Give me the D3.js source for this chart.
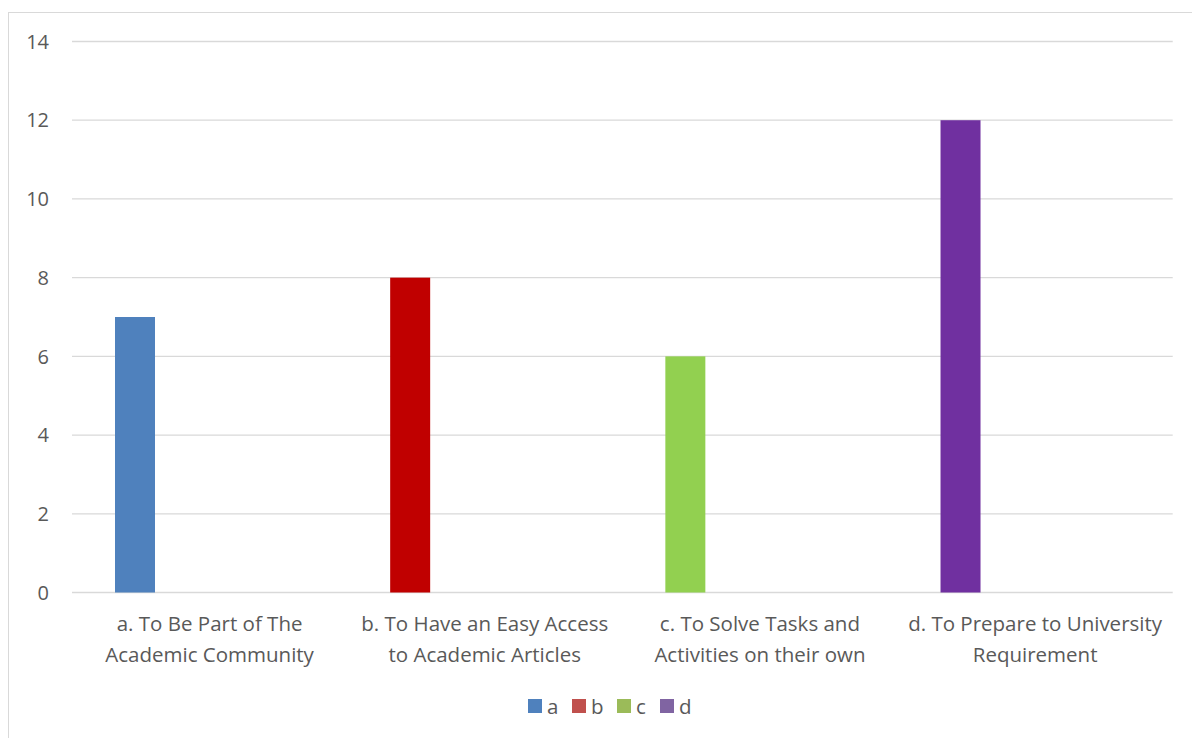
<!DOCTYPE html>
<html><head><meta charset="utf-8">
<script src="https://cdn.jsdelivr.net/npm/d3@7"></script>
<style>body{margin:0;background:#fff}svg{display:block}text{font-family:"Open Sans","Noto Sans",sans-serif}</style>
</head><body>
<script>
const categories = ["a. To Be Part of The|Academic Community","b. To Have an Easy Access|to Academic Articles","c. To Solve Tasks and|Activities on their own","d. To Prepare to University|Requirement"];
const seriesNames = ["a","b","c","d"];
const values = [7, 8, 6, 12];
const barColors = ["#4F81BD","#C00000","#92D050","#7030A0"];
const legendColors = ["#4F81BD","#C0504D","#9BBB59","#8064A2"];
const yTicks = [0,2,4,6,8,10,12,14];

const W=1192,H=738;
const svg=d3.select("body").append("svg").attr("width",W).attr("height",H);
svg.append("rect").attr("x",8.5).attr("y",12.5).attr("width",W).attr("height",H).attr("fill","none").attr("stroke","#D9D9D9");

const x=d3.scaleBand().domain(categories).range([72,1172.7]);
const y=d3.scaleLinear().domain([0,14]).range([592.5,41.5]);

svg.append("g").selectAll("line").data(yTicks).join("line")
 .attr("x1",72).attr("x2",1172.7).attr("y1",d=>y(d)).attr("y2",d=>y(d))
 .attr("stroke","#D9D9D9").attr("stroke-width",1.3);

svg.append("g").selectAll("text").data(yTicks).join("text")
 .attr("x",49).attr("y",d=>y(d)).attr("dy","0.36em").attr("text-anchor","end")
 .attr("font-size",20).attr("fill","#595959").text(d=>d);

const off=x.bandwidth()*43/275.2, bw=x.bandwidth()*40/275.2;
svg.append("g").selectAll("rect").data(values).join("rect")
 .attr("x",(d,i)=>x(categories[i])+off).attr("width",bw)
 .attr("y",d=>y(d)).attr("height",d=>y(0)-y(d)).attr("fill",(d,i)=>barColors[i]);

const lab=svg.append("g").selectAll("text").data(categories).join("text")
 .attr("x",d=>x(d)+x.bandwidth()/2).attr("y",630.5).attr("text-anchor","middle")
 .attr("font-size",20.5).attr("fill","#595959");
lab.each(function(d){
  const t=d3.select(this);
  d.split("|").forEach((s,k)=>t.append("tspan").attr("x",x(d)+x.bandwidth()/2).attr("dy",k?31:0).text(s));
});

const lx=[528,572,617,660];
const lg=svg.append("g").selectAll("g").data(seriesNames).join("g");
lg.append("rect").attr("x",(d,i)=>lx[i]).attr("y",699).attr("width",14).attr("height",14).attr("fill",(d,i)=>legendColors[i]);
lg.append("text").attr("x",(d,i)=>lx[i]+19).attr("y",713.5).attr("font-size",20.5).attr("fill","#595959").text(d=>d);
</script>
</body></html>
